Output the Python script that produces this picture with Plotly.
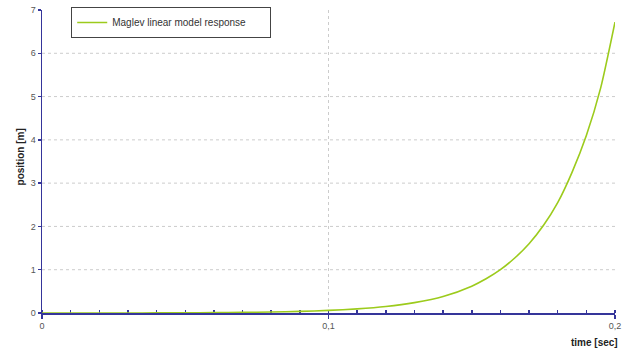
import plotly.graph_objects as go

# Data
time_sec = [0.0, 0.01, 0.02, 0.03, 0.04, 0.05, 0.06, 0.07, 0.08, 0.09, 0.10,
            0.11, 0.12, 0.13, 0.14, 0.15, 0.155, 0.16, 0.165, 0.17, 0.175,
            0.18, 0.185, 0.19, 0.195, 0.20]
position_m = [0.0, 0.0, 0.0, 0.001, 0.002, 0.004, 0.008, 0.014, 0.023, 0.037, 0.06,
              0.095, 0.15, 0.24, 0.38, 0.62, 0.79, 1.0, 1.27, 1.6, 2.02,
              2.55, 3.25, 4.1, 5.2, 6.72]
series_name = "Maglev linear model response"
x_ticks = [0, 0.1, 0.2]
y_ticks = [0, 1, 2, 3, 4, 5, 6, 7]
y_grid = [1, 2, 3, 4, 5, 6]
x_grid = [0.1]

AXIS = "#35359a"
GRID = "#cccccc"

fig = go.Figure()
fig.add_trace(go.Scatter(
    x=time_sec, y=position_m, mode="lines", name=series_name,
    line=dict(color="#9ccb1c", width=1.6, shape="spline", smoothing=0.6),
))

shapes = []
for g in y_grid:
    shapes.append(dict(type="line", xref="paper", x0=0, x1=1, yref="y", y0=g, y1=g,
                       line=dict(color=GRID, width=1, dash="dot"), layer="below"))
for g in x_grid:
    shapes.append(dict(type="line", xref="x", x0=g, x1=g, yref="paper", y0=0, y1=1,
                       line=dict(color=GRID, width=1, dash="dot"), layer="below"))

fig.update_layout(
    width=640, height=354,
    margin=dict(l=42, r=25, t=10, b=41, autoexpand=False),
    paper_bgcolor="white", plot_bgcolor="white",
    separators=",.",
    font=dict(family="Liberation Sans, Arial, sans-serif", size=9, color="#555555"),
    shapes=shapes,
    showlegend=True,
    legend=dict(
        x=0.051, y=1.01, xanchor="left", yanchor="top",
        bgcolor="white", bordercolor="#444444", borderwidth=1,
        font=dict(size=10, color="#333333"),
        itemwidth=30, orientation="h", entrywidth=153, entrywidthmode="pixels",
    ),
    xaxis=dict(
        range=[0, 0.2], tickvals=x_ticks, showgrid=False, zeroline=False,
        showline=True, linecolor=AXIS, linewidth=1.5, automargin=False,
        ticks="outside", ticklen=4, tickcolor=AXIS, tickwidth=1.5,
        minor=dict(dtick=0.01, ticks="inside", ticklen=3, tickcolor=AXIS, tickwidth=1.5),
        tickfont=dict(size=9, color="#555555"),
        layer="below traces", fixedrange=True,
    ),
    yaxis=dict(
        range=[0, 7], tickvals=y_ticks, showgrid=False, zeroline=False,
        showline=True, linecolor=AXIS, linewidth=1.5, automargin=False,
        ticks="outside", ticklen=3, tickcolor=AXIS, tickwidth=1.5,
        tickfont=dict(size=9, color="#555555"),
        layer="below traces", fixedrange=True,
    ),
    annotations=[
        dict(text="<b>position [m]</b>", xref="paper", yref="paper", x=-0.037, y=0.516,
             textangle=-90, showarrow=False, xanchor="center", yanchor="middle",
             font=dict(size=10, color="#222222")),
        dict(text="<b>time [sec]</b>", xref="paper", yref="paper", x=0.965, y=-0.099,
             showarrow=False, xanchor="center", yanchor="middle",
             font=dict(size=10, color="#222222")),
    ],
)

fig.write_html(
    "out.html",
    config={"displayModeBar": False, "staticPlot": True},
    post_script="document.body.style.margin='0';document.body.style.overflow='hidden';",
)
